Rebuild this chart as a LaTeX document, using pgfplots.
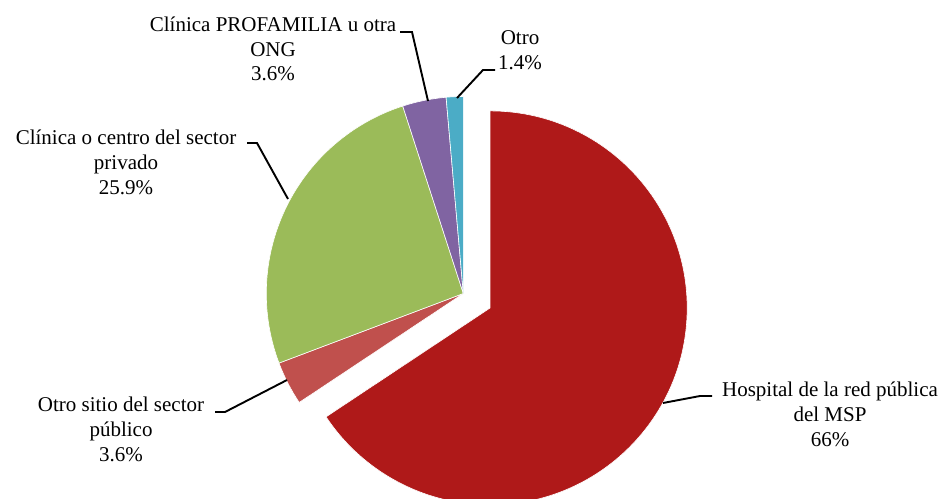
\documentclass[border=0pt]{standalone}
\usepackage{pgfplots}
\usepackage{pgfplotstable}
\pgfplotsset{compat=1.18}
\usepackage{fontspec}
\setmainfont{Liberation Serif}
\definecolor{cHosp}{RGB}{175,25,25}
\definecolor{cOtroSitio}{RGB}{192,80,77}
\definecolor{cPriv}{RGB}{155,187,89}
\definecolor{cProf}{RGB}{128,100,162}
\definecolor{cOtro}{RGB}{75,172,198}

\pgfplotstableread{
idx value
0 66
1 3.6
2 25.9
3 3.6
4 1.4
}\piedata

\begin{document}
\begin{tikzpicture}
\pgfplotstablegetelem{0}{value}\of\piedata \edef\vA{\pgfplotsretval}
\pgfplotstablegetelem{1}{value}\of\piedata \edef\vB{\pgfplotsretval}
\pgfplotstablegetelem{2}{value}\of\piedata \edef\vC{\pgfplotsretval}
\pgfplotstablegetelem{3}{value}\of\piedata \edef\vD{\pgfplotsretval}
\pgfplotstablegetelem{4}{value}\of\piedata \edef\vE{\pgfplotsretval}
\pgfmathsetmacro\tot{(\vA+\vB+\vC+\vD+\vE)/100}
\pgfmathsetmacro\eA{3.6*\vA/\tot}
\pgfmathsetmacro\eB{\eA+3.6*\vB/\tot}
\pgfmathsetmacro\eC{\eB+3.6*\vC/\tot}
\pgfmathsetmacro\eD{\eC+3.6*\vD/\tot}
\pgfmathsetmacro\mA{\eA/2}
\pgfmathsetmacro\hx{463.3+30.5*sin(\mA)}
\pgfmathsetmacro\hy{293.5-30.5*cos(\mA)}
\pgfmathsetmacro\sA{90-\eA}
\pgfmathsetmacro\sB{90-\eB}
\pgfmathsetmacro\sC{90-\eC}
\pgfmathsetmacro\sD{90-\eD}
\begin{axis}[
  scale only axis, width=948bp, height=499bp,
  xmin=0, xmax=948, ymin=0, ymax=499, y dir=reverse,
  hide axis, clip=true,
]
\path (axis cs:0,0) rectangle (axis cs:948,499);
\fill[cHosp, draw=white, line width=0.6bp] (axis cs:\hx,\hy) -- ++(90:197bp) arc[start angle=90, end angle=\sA, radius=197bp] -- cycle;
\fill[cOtroSitio, draw=white, line width=0.6bp] (axis cs:463.3,293.5) -- ++(\sA:197bp) arc[start angle=\sA, end angle=\sB, radius=197bp] -- cycle;
\fill[cPriv, draw=white, line width=0.6bp] (axis cs:463.3,293.5) -- ++(\sB:197bp) arc[start angle=\sB, end angle=\sC, radius=197bp] -- cycle;
\fill[cProf, draw=white, line width=0.6bp] (axis cs:463.3,293.5) -- ++(\sC:197bp) arc[start angle=\sC, end angle=\sD, radius=197bp] -- cycle;
\fill[cOtro, draw=white, line width=0.6bp] (axis cs:463.3,293.5) -- ++(\sD:197bp) arc[start angle=\sD, end angle=-270, radius=197bp] -- cycle;

\draw[line width=1.9bp] (axis cs:663,403) -- (axis cs:700,396) -- (axis cs:712,396);
\draw[line width=1.9bp] (axis cs:215,412) -- (axis cs:225,412) -- (axis cs:287,380);
\draw[line width=1.9bp] (axis cs:247,143) -- (axis cs:257,143) -- (axis cs:288,199);
\draw[line width=1.9bp] (axis cs:400,32) -- (axis cs:412,32) -- (axis cs:428,101);
\draw[line width=1.9bp] (axis cs:457,98) -- (axis cs:483,70) -- (axis cs:495,70);

\tikzset{lbl/.style={align=center, inner sep=0pt, anchor=center, font=\fontsize{21bp}{24.8bp}\selectfont}}
\node[lbl] at (axis cs:830,414.5) {Hospital de la red pública\\del MSP\\66\%};
\node[lbl] at (axis cs:121,429.5) {Otro sitio del sector\\público\\3.6\%};
\node[lbl] at (axis cs:126,162.5) {Clínica o centro del sector\\privado\\25.9\%};
\node[lbl] at (axis cs:273,49) {Clínica PROFAMILIA u otra\\ONG\\3.6\%};
\node[lbl] at (axis cs:520,50) {Otro\\1.4\%};
\end{axis}
\end{tikzpicture}
\end{document}
